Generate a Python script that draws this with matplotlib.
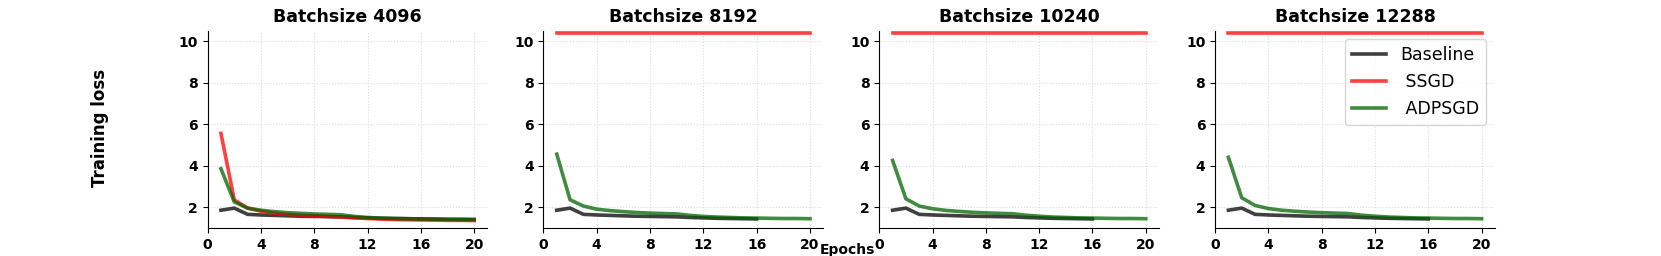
import matplotlib
matplotlib.use("Agg")
import matplotlib.pyplot as plt

batch_sizes = [4096, 8192, 10240, 12288]
epochs20 = list(range(1, 21))
epochs16 = list(range(1, 17))

baseline = [1.85, 1.95, 1.65, 1.62, 1.60, 1.58, 1.56, 1.55, 1.54, 1.53,
            1.50, 1.48, 1.46, 1.45, 1.44, 1.43]
baseline_4096 = baseline + [1.42, 1.41, 1.41, 1.40]

ssgd_4096 = [5.55, 2.35, 1.95, 1.80, 1.70, 1.65, 1.60, 1.58, 1.55, 1.52,
             1.48, 1.45, 1.42, 1.40, 1.39, 1.38, 1.37, 1.36, 1.36, 1.35]
ssgd_diverged = [10.39] * 20

adpsgd_4096 = [3.85, 2.25, 1.95, 1.85, 1.78, 1.73, 1.70, 1.67, 1.65, 1.63,
               1.55, 1.50, 1.47, 1.45, 1.44, 1.43, 1.42, 1.41, 1.40, 1.40]
adpsgd_8192 = [4.55, 2.35, 2.05, 1.90, 1.83, 1.78, 1.74, 1.71, 1.69, 1.67,
               1.60, 1.55, 1.52, 1.50, 1.48, 1.47, 1.46, 1.45, 1.45, 1.44]
adpsgd_10240 = [4.25, 2.40, 2.05, 1.92, 1.84, 1.79, 1.75, 1.72, 1.70, 1.68,
                1.61, 1.56, 1.52, 1.50, 1.48, 1.47, 1.46, 1.45, 1.45, 1.44]
adpsgd_12288 = [4.40, 2.45, 2.08, 1.93, 1.85, 1.80, 1.76, 1.73, 1.71, 1.69,
                1.61, 1.56, 1.52, 1.50, 1.48, 1.47, 1.46, 1.45, 1.45, 1.44]

panels = [
    (epochs20, baseline_4096, ssgd_4096, adpsgd_4096),
    (epochs16, baseline, ssgd_diverged, adpsgd_8192),
    (epochs16, baseline, ssgd_diverged, adpsgd_10240),
    (epochs16, baseline, ssgd_diverged, adpsgd_12288),
]

xticks = [0, 4, 8, 12, 16, 20]
yticks = [2, 4, 6, 8, 10]

fig, axes = plt.subplots(1, 4, figsize=(16.61, 2.56), dpi=100)
lw = 2.6
for ax, bs, (be, b, s, a) in zip(axes, batch_sizes, panels):
    ax.plot(be, b, color='k', alpha=0.75, lw=lw, label='Baseline')
    ax.plot(epochs20, s, color='red', alpha=0.75, lw=lw, label=' SSGD')
    ax.plot(epochs20, a, color='darkgreen', alpha=0.75, lw=lw, label=' ADPSGD')
    ax.set_title(f'Batchsize {bs}', fontsize=12.5, fontweight='bold')
    ax.set_xlim(0, 21)
    ax.set_ylim(1.0, 10.5)
    ax.set_xticks(xticks)
    ax.set_yticks(yticks)
    ax.grid(True, linestyle=':', color='#dddddd', linewidth=0.8)
    ax.spines['top'].set_visible(False)
    ax.spines['right'].set_visible(False)
    for lab in ax.get_xticklabels() + ax.get_yticklabels():
        lab.set_fontweight('bold')
        lab.set_fontsize(10)

axes[3].legend(loc='upper right', fontsize=12.5)
fig.text(0.06, 0.5, 'Training loss', rotation=90, ha='center', va='center',
         fontsize=12, fontweight='bold')
fig.text(0.51, 0.025, 'Epochs', ha='center', va='center',
         fontsize=10, fontweight='bold')
fig.savefig('out.png', dpi=100)
